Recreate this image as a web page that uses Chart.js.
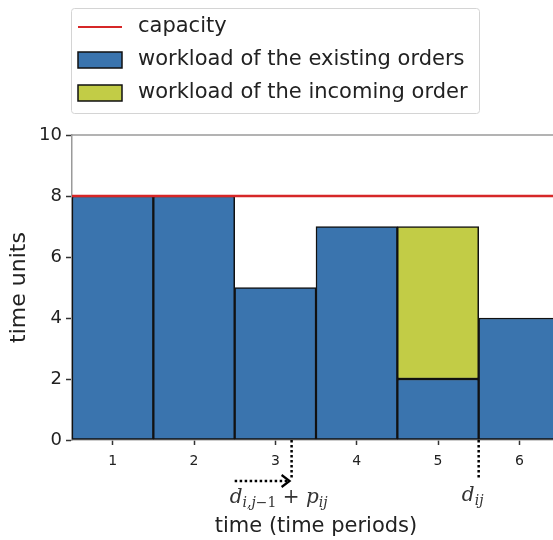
<!DOCTYPE html>
<html lang="en">

<head>
    <meta charset="UTF-8">
    <title> workload </title>
    <script src="https://cdn.jsdelivr.net/npm/chart.js"></script>
    <style>
        html, body { margin: 0; padding: 0; background: #fff; overflow: hidden; }
        .wrap { width: 560px; height: 540px; }
    </style>
</head>

<body>
    <div class="wrap">
        <canvas id="workloadChart" width="560" height="540"></canvas>
    </div>

    <script>
        // data
        const periods = [1, 2, 3, 4, 5, 6];
        const existingLoad = [8, 8, 5, 7, 2, 4];
        const incomingLoad = [null, null, null, null, 5, null];
        const capacity = 8;
        const yTicks = [0, 2, 4, 6, 8, 10];

        // where the due-date markers sit on the time axis
        const arrowStart = 2.5;
        const earliestFinish = 3.2;
        const dueDate = 5.5;

        const blue = '#3a74ae';
        const olive = '#c2cc46';
        const red = '#d62728';
        const spine = '#9a9a9a';

        const topSpine = {
            id: 'topSpine',
            afterDraw(chart) {
                const ctx = chart.ctx, a = chart.chartArea;
                ctx.save();
                ctx.strokeStyle = spine;
                ctx.lineWidth = 1.5;
                ctx.beginPath();
                ctx.moveTo(a.left, a.top);
                ctx.lineTo(a.right + 5, a.top);
                ctx.stroke();
                ctx.restore();
            }
        };

        // legend box in the top-left, like matplotlib's
        const boxLegend = {
            id: 'boxLegend',
            afterDraw(chart) {
                const ctx = chart.ctx;
                const ds = chart.data.datasets;
                const items = [ds[2], ds[0], ds[1]];
                ctx.save();
                ctx.fillStyle = 'rgba(255,255,255,0.85)';
                ctx.strokeStyle = '#d4d4d4';
                ctx.lineWidth = 1;
                ctx.beginPath();
                ctx.roundRect(71.5, 8.5, 408, 105, 3);
                ctx.fill();
                ctx.stroke();
                ctx.font = '21px "DejaVu Sans"';
                ctx.textBaseline = 'middle';
                items.forEach((d, i) => {
                    const y = 27 + i * 33;
                    if (d.type === 'line') {
                        ctx.strokeStyle = d.borderColor;
                        ctx.lineWidth = 2;
                        ctx.beginPath();
                        ctx.moveTo(78, y);
                        ctx.lineTo(122, y);
                        ctx.stroke();
                    } else {
                        ctx.fillStyle = d.backgroundColor;
                        ctx.fillRect(78, y - 8, 44, 16);
                        ctx.strokeStyle = '#111';
                        ctx.lineWidth = 1.5;
                        ctx.strokeRect(78, y - 8, 44, 16);
                    }
                    ctx.fillStyle = '#222';
                    ctx.fillText(d.label, 138, y);
                });
                ctx.restore();
            }
        };

        function drawMath(ctx, parts, cx, base) {
            const fontOf = p => (p.it ? 'italic ' : '') + (p.sub ? '14px' : '20px') + ' "DejaVu Serif"';
            let w = 0;
            parts.forEach(p => { ctx.font = fontOf(p); w += ctx.measureText(p.t).width; });
            let x = cx - w / 2;
            parts.forEach(p => {
                ctx.font = fontOf(p);
                ctx.fillText(p.t, x, base + (p.sub ? 4 : 0));
                x += ctx.measureText(p.t).width;
            });
        }

        // dotted markers and labels under the time axis
        const dueMarkers = {
            id: 'dueMarkers',
            afterDraw(chart) {
                const ctx = chart.ctx, x = chart.scales.x, y0 = chart.chartArea.bottom;
                const xe = x.getPixelForValue(earliestFinish);
                const xs = x.getPixelForValue(arrowStart);
                const xd = x.getPixelForValue(dueDate);
                ctx.save();
                ctx.strokeStyle = '#000';
                ctx.lineWidth = 2.5;
                ctx.setLineDash([2.5, 2.5]);
                ctx.beginPath();
                ctx.moveTo(xe, y0);
                ctx.lineTo(xe, y0 + 39);
                ctx.moveTo(xd, y0);
                ctx.lineTo(xd, y0 + 40);
                ctx.moveTo(xs, y0 + 41);
                ctx.lineTo(xe - 4, y0 + 41);
                ctx.stroke();
                ctx.setLineDash([]);
                ctx.lineWidth = 2.2;
                ctx.beginPath();
                ctx.moveTo(xe - 10, y0 + 35);
                ctx.lineTo(xe - 2, y0 + 41);
                ctx.lineTo(xe - 10, y0 + 47);
                ctx.stroke();
                ctx.fillStyle = '#333';
                ctx.textBaseline = 'alphabetic';
                drawMath(ctx, [
                    { t: 'd', it: true }, { t: 'i,j', it: true, sub: true }, { t: '\u22121', sub: true },
                    { t: ' + ' }, { t: 'p', it: true }, { t: 'ij', it: true, sub: true }
                ], xe - 13, y0 + 63);
                drawMath(ctx, [{ t: 'd', it: true }, { t: 'ij', it: true, sub: true }], xd - 6, y0 + 61);
                ctx.restore();
            }
        };

        const ctx = document.getElementById('workloadChart').getContext('2d');
        new Chart(ctx, {
            type: 'bar',
            data: {
                datasets: [{
                    label: 'workload of the existing orders',
                    data: periods.map((p, i) => ({ x: p, y: existingLoad[i] })),
                    backgroundColor: blue,
                    borderColor: '#111',
                    borderWidth: 1.5,
                    borderSkipped: false,
                    barPercentage: 1,
                    categoryPercentage: 1,
                    order: 1
                }, {
                    label: 'workload of the incoming order',
                    data: periods.map((p, i) => ({ x: p, y: incomingLoad[i] })),
                    backgroundColor: olive,
                    borderColor: '#111',
                    borderWidth: 1.5,
                    borderSkipped: false,
                    barPercentage: 1,
                    categoryPercentage: 1,
                    order: 1
                }, {
                    type: 'line',
                    label: 'capacity',
                    data: [{ x: 0.5, y: capacity }, { x: 6.5, y: capacity }],
                    borderColor: red,
                    borderWidth: 2.5,
                    pointRadius: 0,
                    stack: 'cap',
                    order: 0
                }]
            },
            options: {
                responsive: false,
                animation: false,
                devicePixelRatio: 1,
                layout: { padding: { top: 135, left: 0, right: 0, bottom: 0 } },
                plugins: { legend: { display: false }, tooltip: { enabled: false } },
                scales: {
                    x: {
                        type: 'linear',
                        stacked: true,
                        offset: false,
                        min: 0.5,
                        max: 6.5,
                        z: 1,
                        afterFit: s => { s.height = 100; },
                        afterBuildTicks: s => { s.ticks = periods.map(v => ({ value: v })); },
                        grid: { offset: false, drawOnChartArea: false, tickLength: 5, tickColor: '#333', tickWidth: 1.5 },
                        border: { color: spine, width: 1.5 },
                        ticks: { color: '#222', padding: 8, font: { family: 'DejaVu Sans', size: 14 } },
                        title: {
                            display: true, text: 'time (time periods)', color: '#222',
                            font: { family: 'DejaVu Sans', size: 21 }, padding: { top: 0, bottom: 1 }
                        }
                    },
                    y: {
                        stacked: true,
                        min: 0,
                        max: 10,
                        z: 1,
                        afterFit: s => { s.width = 72; },
                        afterBuildTicks: s => { s.ticks = yTicks.map(v => ({ value: v })); },
                        grid: { drawOnChartArea: false, tickLength: 6, tickColor: '#333', tickWidth: 1.5 },
                        border: { color: spine, width: 1.5 },
                        ticks: { color: '#222', padding: 4, font: { family: 'DejaVu Sans', size: 18 } },
                        title: {
                            display: true, text: 'time units', color: '#222',
                            font: { family: 'DejaVu Sans', size: 22 }, padding: { top: 6, bottom: 0 }
                        }
                    }
                }
            },
            plugins: [topSpine, boxLegend, dueMarkers]
        });
    </script>
</body>

</html>
